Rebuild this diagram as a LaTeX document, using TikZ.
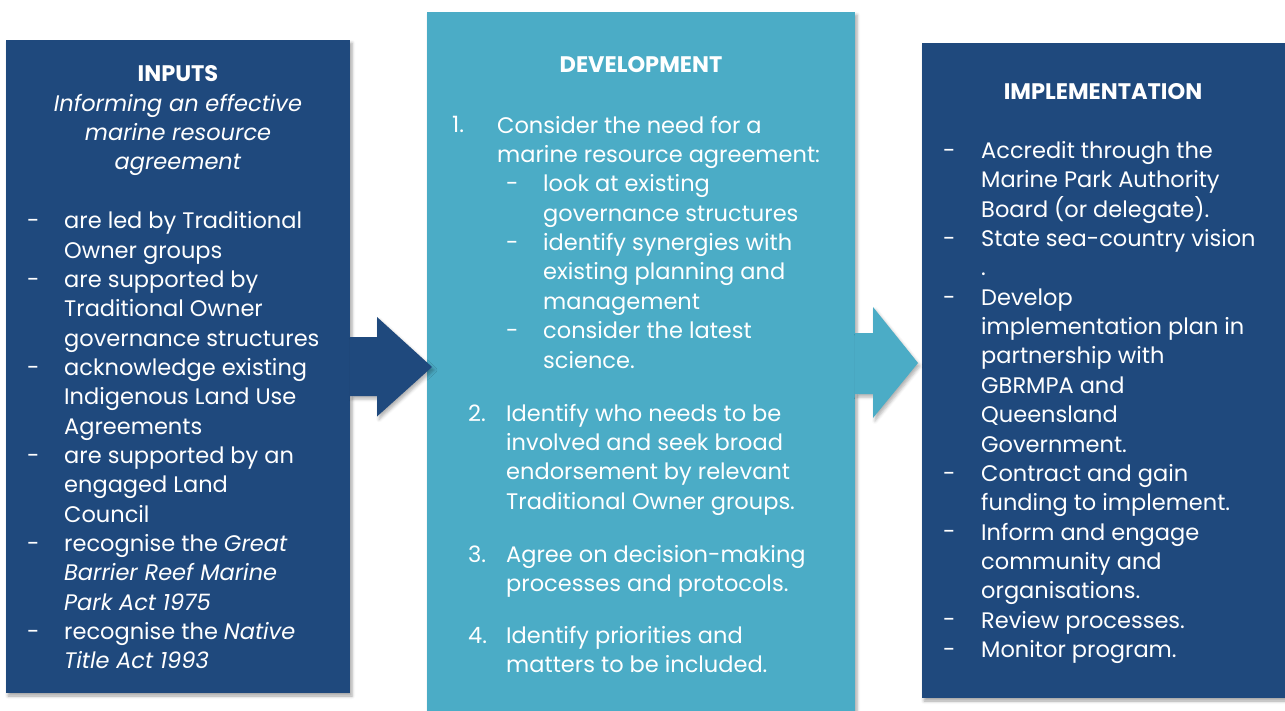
\documentclass[tikz,border=0pt]{standalone}
\usepackage{fontspec}
\setmainfont{Poppins}
\usepackage{xcolor}
\definecolor{gbnavy}{RGB}{31,73,125}
\definecolor{gbteal}{RGB}{75,172,198}
\usepackage{tikz}
\usetikzlibrary{calc, shadows.blur}
\newcommand\panelfont{\fontsize{22.5}{29.35}\selectfont}

\tikzset{
  panel/.style={anchor=north west, inner sep=0pt, outer sep=0pt,
    blur shadow={shadow xshift=2pt, shadow yshift=-3pt, shadow blur radius=3pt, shadow opacity=35}},
  arrowshade/.style={blur shadow={shadow xshift=2pt, shadow yshift=-3pt, shadow blur radius=3pt, shadow opacity=30}},
  txt/.style={anchor=north west, inner sep=0pt, align=left, text=white, font=\panelfont},
  head/.style={anchor=north, inner sep=0pt, align=center, text=white, font=\panelfont},
  dashmark/.style={anchor=base west, inner sep=0pt, text=white, font=\panelfont},
}

\begin{document}
\begin{tikzpicture}[x=1pt, y=-1pt]
  \useasboundingbox (0,0) rectangle (1285,711);

  % the three panels
  \node[panel, fill=gbnavy, minimum width=344pt, minimum height=653pt] (inputs) at (6,40) {};
  \node[panel, fill=gbteal, minimum width=428pt, minimum height=705pt] (develop) at (427,12) {};
  \node[panel, fill=gbnavy, minimum width=368pt, minimum height=655pt] (implement) at (922,43) {};

  % block arrows between the panels
  \coordinate (tipL) at ($(inputs.east)+(82,0.5)$);
  \fill[gbnavy, arrowshade] ($(inputs.east)+(0,-29.5)$) -- ++(27,0) -- ++(0,-20) -- (tipL)
       -- ++(-55,49.5) -- ++(0,-20.5) -- ++(-27,0) -- cycle;
  \coordinate (tipR) at ($(develop.east)+(63,-1.5)$);
  \fill[gbteal, arrowshade] ($(develop.east)+(0,-31.5)$) -- ++(18,0) -- ++(0,-26) -- (tipR)
       -- ++(-45,55) -- ++(0,-24) -- ++(-18,0) -- cycle;

  % inputs
  \node[head] (inputsHead) at (178,61) {\strut\textbf{INPUTS}\\
    \textit{Informing an effective}\\ \textit{marine resource}\\ \textit{agreement}};
  \node[txt] (inputsList) at (64,208) {\strut are led by Traditional\\
    Owner groups\\
    are supported by\\
    Traditional Owner\\
    governance structures\\
    acknowledge existing\\
    Indigenous Land Use\\
    Agreements\\
    are supported by an\\
    engaged Land\\
    Council\\
    recognise the \textit{Great}\\
    \textit{Barrier Reef Marine}\\
    \textit{Park Act 1975}\\
    recognise the \textit{Native}\\
    \textit{Title Act 1993}};
  \foreach \k in {0,2,5,8,11,14}
    \node[dashmark] (ld\k) at (27,{228.5+29.35*\k}) {-};

  % development
  \node[head] (developHead) at (641,52) {\strut\textbf{DEVELOPMENT}};
  \node[dashmark] (num1) at (452,133) {1.};
  \node[txt] (step1) at (497,112.5) {\strut Consider the need for a\\
    marine resource agreement:};
  \node[txt] (step1sub) at (543,171.2) {\strut look at existing\\
    governance structures\\
    identify synergies with\\
    existing planning and\\
    management\\
    consider the latest\\
    science.};
  \foreach \k in {0,2,5}
    \node[dashmark] (sd\k) at (506,{191.7+29.35*\k}) {-};
  \node[dashmark] (num2) at (468,421) {2.};
  \node[txt] (step2) at (506,400.5) {\strut Identify who needs to be\\
    involved and seek broad\\
    endorsement by relevant\\
    Traditional Owner groups.};
  \node[dashmark] (num3) at (468,562) {3.};
  \node[txt] (step3) at (506,541.5) {\strut Agree on decision-making\\
    processes and protocols.};
  \node[dashmark] (num4) at (468,643) {4.};
  \node[txt] (step4) at (506,622.5) {\strut Identify priorities and\\
    matters to be included.};

  % implementation
  \node[head] (implementHead) at (1103,79) {\strut\textbf{IMPLEMENTATION}};
  \node[txt] (implementList) at (981,137.8) {\strut Accredit through the\\
    Marine Park Authority\\
    Board (or delegate).\\
    State sea-country vision\\
    .\\
    Develop\\
    implementation plan in\\
    partnership with\\
    GBRMPA and\\
    Queensland\\
    Government.\\
    Contract and gain\\
    funding to implement.\\
    Inform and engage\\
    community and\\
    organisations.\\
    Review processes.\\
    Monitor program.};
  \foreach \k in {0,3,5,11,13,16,17}
    \node[dashmark] (rd\k) at (943,{158.3+29.35*\k}) {-};
\end{tikzpicture}
\end{document}
